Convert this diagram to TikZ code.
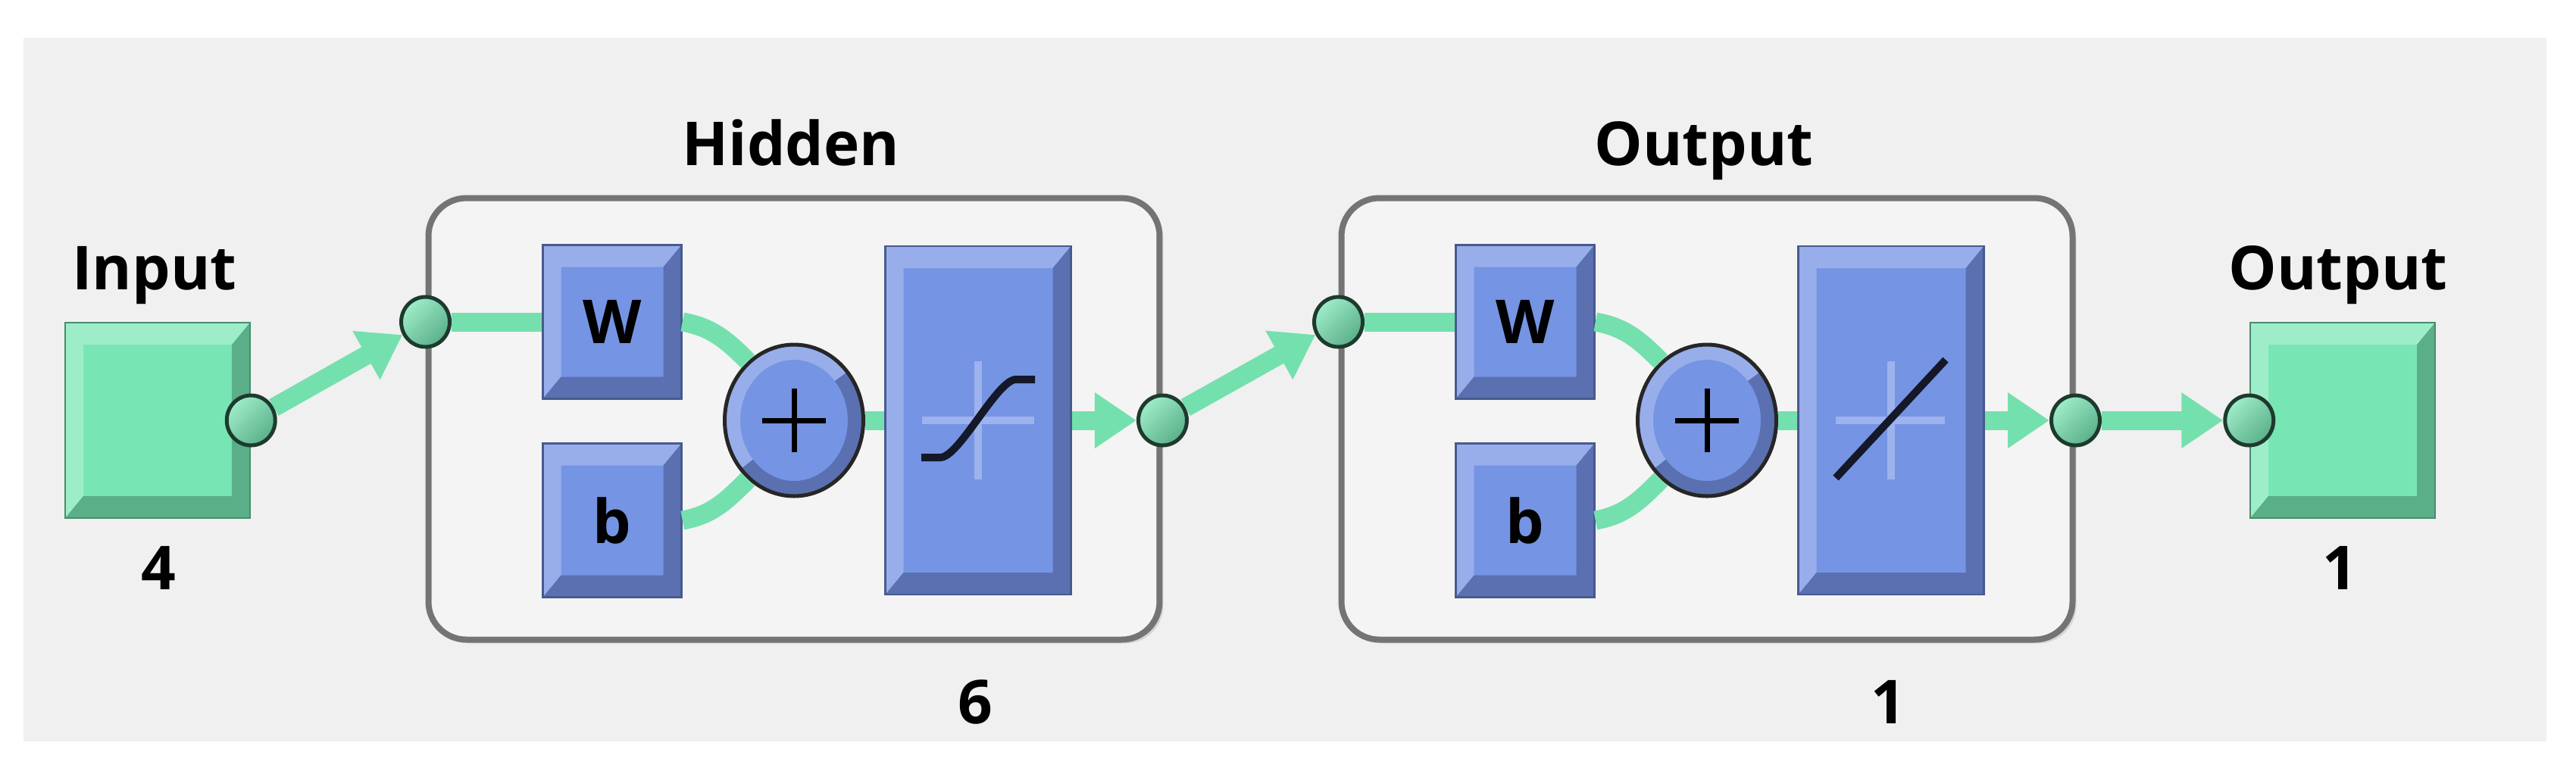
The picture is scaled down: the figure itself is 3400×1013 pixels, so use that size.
\documentclass[tikz,border=0pt]{standalone}
\usepackage{fontspec}
\setmainfont{Open Sans}
\usetikzlibrary{arrows.meta,shapes.geometric,shadows}

\definecolor{bggrey}{HTML}{F0F0F0}
\definecolor{layerfill}{HTML}{F4F4F4}
\definecolor{layeredge}{HTML}{747474}
\definecolor{bluemain}{HTML}{7594E3}
\definecolor{bluelight}{HTML}{98AEEB}
\definecolor{bluedark}{HTML}{5A70B0}
\definecolor{greenmain}{HTML}{78E6B4}
\definecolor{greenlight}{HTML}{9EEDC9}
\definecolor{greendark}{HTML}{5AAF89}
\definecolor{wiregreen}{HTML}{74E0AE}
\definecolor{portedge}{HTML}{1E3A2E}
\definecolor{crossblue}{HTML}{9DB3EE}
\definecolor{curveblack}{HTML}{141828}

\newcommand{\lblfont}{\bfseries\fontsize{8pt}{9.6pt}\selectfont}

% light top/left and dark bottom/right edges of a block
\newcommand{\drawbevel}[2]{%
  \fill[#1] (path picture bounding box.north west) -- (path picture bounding box.north east)
    -- ([shift={(-2.4pt,-2.9pt)}]path picture bounding box.north east)
    -- ([shift={(2.4pt,-2.9pt)}]path picture bounding box.north west)
    -- ([shift={(2.4pt,2.9pt)}]path picture bounding box.south west)
    -- (path picture bounding box.south west) -- cycle;
  \fill[#2] (path picture bounding box.south east) -- (path picture bounding box.south west)
    -- ([shift={(2.4pt,2.9pt)}]path picture bounding box.south west)
    -- ([shift={(-2.4pt,2.9pt)}]path picture bounding box.south east)
    -- ([shift={(-2.4pt,-2.9pt)}]path picture bounding box.north east)
    -- (path picture bounding box.north east) -- cycle;
}
% ring and plus sign of the summing junction
\newcommand{\drawsum}{%
  \draw[bluelight, line width=2pt] (path picture bounding box.center) ++(40:8.1pt and 9pt)
    arc[start angle=40, end angle=220, x radius=8.1pt, y radius=9pt];
  \draw[bluedark, line width=2pt] (path picture bounding box.center) ++(220:8.1pt and 9pt)
    arc[start angle=220, end angle=400, x radius=8.1pt, y radius=9pt];
  \draw[black, line width=0.7pt]
    ([xshift=-4.2pt]path picture bounding box.center) -- ([xshift=4.2pt]path picture bounding box.center)
    ([yshift=-4.2pt]path picture bounding box.center) -- ([yshift=4.2pt]path picture bounding box.center);
}

\tikzstyle{layerbox}=[draw=layeredge, line width=0.8pt, fill=layerfill, rounded corners=5pt,
  minimum width=96.5pt, minimum height=58.3pt, inner sep=0pt,
  drop shadow={shadow xshift=0.5pt, shadow yshift=-0.5pt, fill=black!40, opacity=0.3}]
\tikzstyle{wblock}=[rectangle, fill=bluemain, draw=bluedark!80!black, line width=0.25pt, inner sep=0pt,
  minimum width=18.3pt, minimum height=20.3pt, path picture={\drawbevel{bluelight}{bluedark}}, font=\lblfont]
\tikzstyle{tfblock}=[wblock, minimum width=24.5pt, minimum height=46pt]
\tikzstyle{sumnode}=[ellipse, fill=bluemain, draw=black!85, line width=0.5pt, inner sep=0pt,
  minimum width=18.3pt, minimum height=20pt, path picture={\drawsum}]
\tikzstyle{iobox}=[rectangle, fill=greenmain, draw=greendark!80!black, line width=0.25pt, inner sep=0pt,
  minimum width=24.4pt, minimum height=25.8pt, path picture={\drawbevel{greenlight}{greendark}}]
\tikzstyle{port}=[ellipse, draw=portedge, line width=0.5pt, top color=greenlight, bottom color=greendark,
  shading angle=45, minimum width=6.4pt, minimum height=6.6pt, inner sep=0pt]
\tikzstyle{wire}=[draw=wiregreen, line width=2.5pt]
\tikzstyle{feed}=[wire, -{Triangle[length=5.5pt,width=7pt]}]
\tikzstyle{lbl}=[anchor=base, inner sep=0pt, font=\lblfont]

\begin{document}
\begin{tikzpicture}[x=0.1pt, y=-0.1pt]
      \useasboundingbox (0,0) rectangle (3400,1013);
      \fill[bggrey] (31,50) rectangle (3361,979);

      % input and output terminals
      \node[iobox] (in) at (208,555) {};
      \node[iobox] (res) at (3092,555) {};
      \node[port] (in-port) at (in.east) {};
      \node[port] (res-port) at (res.west) {};
      \node[lbl] (in-name) at (204,382) {Input};
      \node[lbl] (in-size) at (209,778) {4};
      \node[lbl] (res-name) at (3086,382) {Output};
      \node[lbl] (res-size) at (3088,778) {1};

      % the two layers
      \foreach \lay/\dx/\name/\size in {hid/0/Hidden/6,out/1205/Output/1}{
        \node[layerbox] (\lay) at (1048+\dx,553) {};
        \node[lbl] (\lay-name) at (1044+\dx,218) {\name};
        \node[lbl] (\lay-size) at (1287+\dx,955) {\size};
        \node[wblock] (\lay-W) at (808+\dx,425) {W};
        \node[wblock] (\lay-b) at (808+\dx,687) {b};
        \node[sumnode] (\lay-sum) at (1048+\dx,555) {};
        \node[tfblock] (\lay-tf) at (1291+\dx,555) {};
        \node[port] (\lay-in) at (\lay.west |- \lay-W) {};
        \node[port] (\lay-out) at (\lay.east |- \lay-tf) {};
        \path[wire] (\lay-in) -- (\lay-W);
        \path[wire] (\lay-W.east) to[out=-10,in=135] (\lay-sum.128);
        \path[wire] (\lay-b.east) to[out=10,in=-135] (\lay-sum.-128);
        \path[wire] (\lay-sum) -- (\lay-tf);
        \path[feed] (\lay-tf) -- (\lay-out);
      }

      \path[feed] (in-port) -- (hid-in);
      \path[feed] (hid-out) -- (out-in);
      \path[feed] (out-out) -- (res-port);

      % transfer functions
      \begin{scope}[shift={(hid-tf.center)}]
        \draw[crossblue, line width=1pt] (-74,0) -- (74,0) (0,-78) -- (0,78);
        \draw[curveblack, line width=1pt] (-75,49) -- (-50,49) .. controls (-25,49) and (25,-54) .. (50,-54) -- (75,-54);
      \end{scope}
      \begin{scope}[shift={(out-tf.center)}]
        \draw[crossblue, line width=1pt] (-73,0) -- (71,0) (0,-78) -- (0,78);
        \draw[curveblack, line width=1pt] (-73,76) -- (72,-80);
      \end{scope}

    \end{tikzpicture}
\end{document}
